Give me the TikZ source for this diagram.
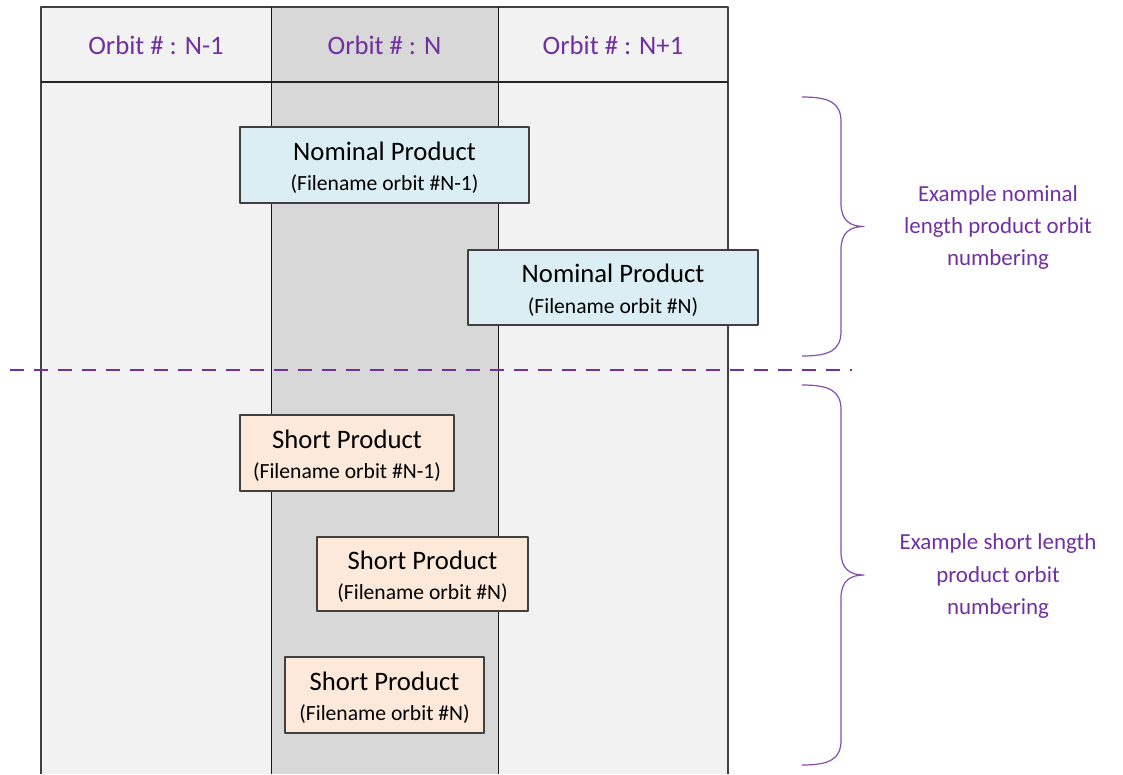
\documentclass[tikz,border=0pt]{standalone}
\usepackage{fontspec}
\setmainfont{Carlito}
\definecolor{orbitpurple}{HTML}{7030A0}
\definecolor{colout}{HTML}{F2F2F2}
\definecolor{colmid}{HTML}{D8D8D8}
\definecolor{nomfill}{HTML}{DAEEF3}
\definecolor{shortfill}{HTML}{FDE9D9}
\tikzset{
  boxsize/.style 2 args={minimum width=#1*0.75pt, minimum height=#2*0.75pt},
  prodbox/.style={draw=black!75, line width=0.8pt, inner sep=0pt, align=center,
    font=\fontsize{20}{23.2}\selectfont},
  nomprod/.style={prodbox, fill=nomfill},
  shortprod/.style={prodbox, fill=shortfill},
  headtxt/.style={text=orbitpurple, font=\fontsize{20}{24}\selectfont},
  bracetxt/.style={text=orbitpurple, align=center, font=\fontsize{17.2}{24}\selectfont},
  divider/.style={orbitpurple, line width=2.1pt, dash pattern=on 10.5pt off 7.5pt},
  bracket/.style={orbitpurple!85, line width=0.9pt}
}
% two-line product label: name, then filename in smaller type
\newcommand{\prodtext}[2]{\rule{0pt}{18pt}#1\\{\fontsize{16.2}{19}\selectfont #2}}
% curly bracket on the right, from y=#1 down to y=#2
\newcommand{\orbitbrace}[2]{%
  \pgfmathsetmacro{\ym}{(#1+#2)/2}
  \draw[bracket] (802,#1) .. controls (830,#1) and (841,#1+6) .. (841,#1+25)
    -- (841,\ym-23) .. controls (841,\ym-6) and (850,\ym) .. (864,\ym)
    .. controls (850,\ym) and (841,\ym+6) .. (841,\ym+23)
    -- (841,#2-25) .. controls (841,#2-6) and (830,#2) .. (802,#2);
}
\begin{document}
\begin{tikzpicture}[x=0.75pt, y=-0.75pt, line join=round]
  \useasboundingbox (0,0) rectangle (1123,774);
  \def\xa{41} \def\xb{271} \def\xc{498} \def\xd{728} % column edges
  \def\ytop{7} \def\yhead{82} \def\ybot{774}
  % columns
  \fill[colout] (\xa,\ytop) rectangle (\xb,\ybot);
  \fill[colmid] (\xb,\ytop) rectangle (\xc,\ybot);
  \fill[colout] (\xc,\ytop) rectangle (\xd,\ybot);
  \draw[black!75, line width=0.9pt] (\xa,\ybot) -- (\xa,\ytop) -- (\xd,\ytop) -- (\xd,\ybot);
  \draw[black!90, line width=0.7pt] (\xb,\ytop) -- (\xb,\ybot) (\xc,\ytop) -- (\xc,\ybot);
  \draw[black!85, line width=0.8pt] (\xa,\yhead) -- (\xd,\yhead);
  \node[headtxt] (hprev) at ({(\xa+\xb)/2},45) {Orbit \# : N-1};
  \node[headtxt] (hcur)  at ({(\xb+\xc)/2},45) {Orbit \# : N};
  \node[headtxt] (hnext) at ({(\xc+\xd)/2},45) {Orbit \# : N+1};
  % nominal products
  \node[nomprod, boxsize={289}{76}] (nom1) at (384.5,165) {\prodtext{Nominal Product}{(Filename orbit \#N-1)}};
  \node[nomprod, boxsize={290}{75}] (nom2) at (613,287.5) {\prodtext{Nominal Product}{(Filename orbit \#N)}};
  % divider
  \draw[divider] (10,370) -- (852,370);
  % short products
  \node[shortprod, boxsize={214}{76}] (short1) at (347,453) {\prodtext{Short Product}{(Filename orbit \#N-1)}};
  \node[shortprod, boxsize={211}{74}] (short2) at (422.5,574) {\prodtext{Short Product}{(Filename orbit \#N)}};
  \node[shortprod, boxsize={199}{76}] (short3) at (384.5,695) {\prodtext{Short Product}{(Filename orbit \#N)}};
  % braces and notes
  \orbitbrace{97}{356}
  \orbitbrace{385}{765}
  \node[bracetxt] (nomnote) at (998,228) {Example nominal\\length product orbit\\numbering};
  \node[bracetxt] (shortnote) at (998,576) {Example short length\\product orbit\\numbering};
\end{tikzpicture}
\end{document}
